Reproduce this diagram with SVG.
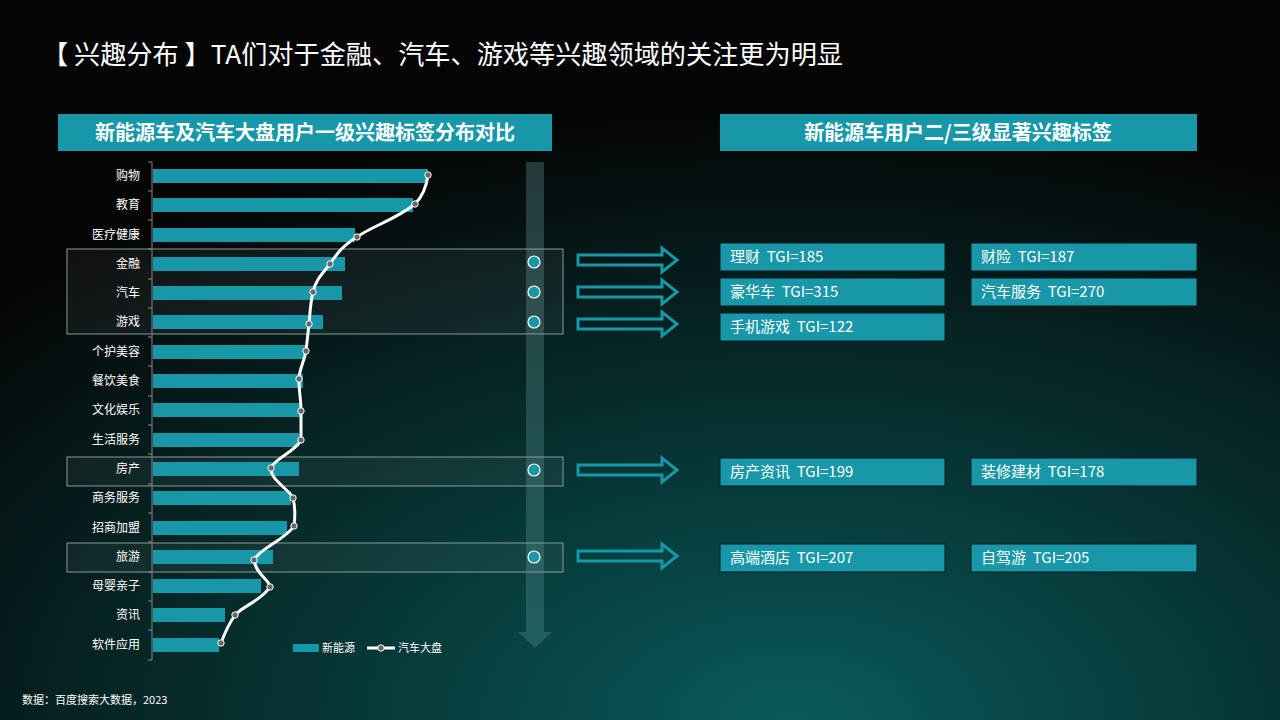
<svg xmlns="http://www.w3.org/2000/svg" width="1280" height="720" viewBox="0 0 1280 720">
<defs>
<radialGradient id="bg" cx="0.62" cy="1.0" r="0.85">
<stop offset="0" stop-color="#0a5a5c"/><stop offset="0.5" stop-color="#06302f"/><stop offset="1" stop-color="#050506"/>
</radialGradient>
<linearGradient id="va" x1="0" y1="0" x2="0" y2="1">
<stop offset="0" stop-color="#3a5a5a" stop-opacity="0.6"/><stop offset="1" stop-color="#3a7a7a" stop-opacity="0.5"/>
</linearGradient>
<marker id="dot" viewBox="0 0 8 8" refX="4" refY="4" markerWidth="8" markerHeight="8" markerUnits="userSpaceOnUse"><circle cx="4" cy="4" r="3.2" fill="#666" stroke="#fff" stroke-width="1"/></marker>
</defs>
<style>
text{font-family:"Noto Sans CJK SC","Liberation Sans",sans-serif;fill:#fff;white-space:pre}
.lab{font-size:12px;text-anchor:end}
.bar{fill:#1797a8}
.hb{fill:#1797a8;stroke:#0b1a1c;stroke-width:1}
.bt{font-size:15px}
.hl{fill:#ffffff;fill-opacity:0.05;stroke:#8a9a9a;stroke-width:1}
.arr{fill:none;stroke:#1797a8;stroke-width:3}
.c{fill:#1797a8;stroke:#fff;stroke-width:1.2}
</style>
<rect width="1280" height="720" fill="url(#bg)"/>
<text x="42" y="64" font-size="26" xml:space="preserve" textLength="801" lengthAdjust="spacingAndGlyphs">【 兴趣分布 】TA们对于金融、汽车、游戏等兴趣领域的关注更为明显</text>
<g id="hdr-left"><rect x="58" y="114" width="494" height="37" fill="#1797a8"/><text x="305" y="140" font-size="20" font-weight="bold" text-anchor="middle">新能源车及汽车大盘用户一级兴趣标签分布对比</text></g>
<g id="hdr-right"><rect x="720" y="114" width="477" height="37" fill="#1797a8"/><text x="958" y="140" font-size="20" font-weight="bold" text-anchor="middle">新能源车用户二/三级显著兴趣标签</text></g>
<path d="M526 162h18v470h8l-17 16-17-16h8z" fill="url(#va)"/>
<g id="highlights">
<rect class="hl" x="67" y="249" width="496" height="85"/>
<rect class="hl" x="67" y="457" width="496" height="29"/>
<rect class="hl" x="67" y="543" width="496" height="29"/>
</g>
<g id="axis" stroke="#888" stroke-width="1">
<line x1="152" y1="162" x2="152" y2="660"/>
<path d="M148 162h4M148 191h4M148 220h4M148 249h4M148 279h4M148 308h4M148 337h4M148 366h4M148 396h4M148 425h4M148 454h4M148 484h4M148 513h4M148 542h4M148 572h4M148 601h4M148 630h4M148 660h4"/>
</g>
<g id="bars">
<rect class="bar" x="153" y="169" width="275" height="14"/>
<rect class="bar" x="153" y="198" width="260" height="14"/>
<rect class="bar" x="153" y="228" width="202" height="14"/>
<rect class="bar" x="153" y="257" width="192" height="14"/>
<rect class="bar" x="153" y="286" width="189" height="14"/>
<rect class="bar" x="153" y="315" width="170" height="14"/>
<rect class="bar" x="153" y="345" width="152" height="14"/>
<rect class="bar" x="153" y="374" width="150" height="14"/>
<rect class="bar" x="153" y="403" width="147" height="14"/>
<rect class="bar" x="153" y="433" width="146" height="14"/>
<rect class="bar" x="153" y="462" width="146" height="14"/>
<rect class="bar" x="153" y="491" width="138" height="14"/>
<rect class="bar" x="153" y="521" width="134" height="14"/>
<rect class="bar" x="153" y="550" width="120" height="14"/>
<rect class="bar" x="153" y="579" width="108" height="14"/>
<rect class="bar" x="153" y="608" width="72" height="14"/>
<rect class="bar" x="153" y="638" width="66" height="14"/>
</g>
<g id="labels">
<text class="lab" x="140" y="180">购物</text><text class="lab" x="140" y="209">教育</text><text class="lab" x="140" y="239">医疗健康</text><text class="lab" x="140" y="268">金融</text><text class="lab" x="140" y="297">汽车</text><text class="lab" x="140" y="326">游戏</text><text class="lab" x="140" y="356">个护美容</text><text class="lab" x="140" y="385">餐饮美食</text><text class="lab" x="140" y="414">文化娱乐</text><text class="lab" x="140" y="444">生活服务</text><text class="lab" x="140" y="473">房产</text><text class="lab" x="140" y="502">商务服务</text><text class="lab" x="140" y="532">招商加盟</text><text class="lab" x="140" y="561">旅游</text><text class="lab" x="140" y="590">母婴亲子</text><text class="lab" x="140" y="619">资讯</text><text class="lab" x="140" y="649">软件应用</text>
</g>
<g id="connectors">
<path d="M428 175C426 190 421 198 415 204C395 220 372 226 357 237C342 246 336 255 330 264C320 276 315 282 313 292C310 305 310 315 309 324L306 351C304 362 299 370 299 379C299 392 301 400 301 411L301 440C295 452 275 458 271 468C270 480 290 490 293 498C296 510 295 518 294 526C285 540 260 548 254 560C256 575 270 580 270 587C262 600 243 606 235 615C228 625 224 635 221 643" fill="none" stroke="#fff" stroke-width="3"/>
<polyline points="428,175 415,204 357,237 330,264 313,292 309,324 306,351 299,379 301,411 301,440 271,468 293,498 294,526 254,560 270,587 235,615 221,643" fill="none" stroke="none" marker-start="url(#dot)" marker-mid="url(#dot)" marker-end="url(#dot)"/>
<path class="arr" d="M578 255h84v-7l15 12-15 12v-7h-84z"/>
<path class="arr" d="M578 287h84v-7l15 12-15 12v-7h-84z"/>
<path class="arr" d="M578 319h84v-7l15 12-15 12v-7h-84z"/>
<path class="arr" d="M578 465h84v-7l15 12-15 12v-7h-84z"/>
<path class="arr" d="M578 551h84v-7l15 12-15 12v-7h-84z"/>
</g>
<g id="circles">
<circle class="c" cx="534" cy="262" r="6"/><circle class="c" cx="534" cy="292" r="6"/><circle class="c" cx="534" cy="322" r="6"/><circle class="c" cx="534" cy="470" r="6"/><circle class="c" cx="534" cy="557" r="6"/>
</g>
<g id="tags">
<g id="t1"><rect class="hb" x="720" y="243" width="225" height="28"/><text class="bt" x="730" y="262" xml:space="preserve">理财  TGI=185</text></g>
<g id="t2"><rect class="hb" x="971" y="243" width="226" height="28"/><text class="bt" x="981" y="262" xml:space="preserve">财险  TGI=187</text></g>
<g id="t3"><rect class="hb" x="720" y="278" width="225" height="28"/><text class="bt" x="730" y="297" xml:space="preserve">豪华车  TGI=315</text></g>
<g id="t4"><rect class="hb" x="971" y="278" width="226" height="28"/><text class="bt" x="981" y="297" xml:space="preserve">汽车服务  TGI=270</text></g>
<g id="t5"><rect class="hb" x="720" y="313" width="225" height="28"/><text class="bt" x="730" y="332" xml:space="preserve">手机游戏  TGI=122</text></g>
<g id="t6"><rect class="hb" x="720" y="458" width="225" height="28"/><text class="bt" x="730" y="477" xml:space="preserve">房产资讯  TGI=199</text></g>
<g id="t7"><rect class="hb" x="971" y="458" width="226" height="28"/><text class="bt" x="981" y="477" xml:space="preserve">装修建材  TGI=178</text></g>
<g id="t8"><rect class="hb" x="720" y="544" width="225" height="28"/><text class="bt" x="730" y="563" xml:space="preserve">高端酒店  TGI=207</text></g>
<g id="t9"><rect class="hb" x="971" y="544" width="226" height="28"/><text class="bt" x="981" y="563" xml:space="preserve">自驾游  TGI=205</text></g>
</g>
<g id="legend">
<rect x="293" y="644" width="26" height="8" fill="#1797a8"/><text x="322" y="652" font-size="11">新能源</text>
<line x1="367" y1="648" x2="395" y2="648" stroke="#fff" stroke-width="3"/><circle cx="381" cy="648" r="3.2" fill="#666" stroke="#fff"/><text x="398" y="652" font-size="11">汽车大盘</text>
</g>
<text x="22" y="704" font-size="11">数据：百度搜索大数据，2023</text>
</svg>
